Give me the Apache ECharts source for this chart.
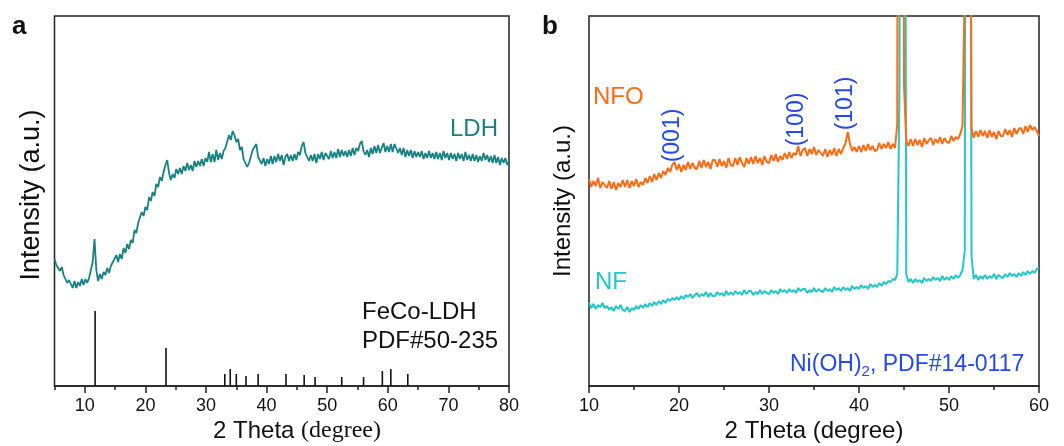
<!DOCTYPE html>
<html>
<head>
<meta charset="utf-8">
<script src="https://cdn.jsdelivr.net/npm/echarts@6/dist/echarts.min.js"></script>
<style>
html,body{margin:0;padding:0;background:#fff;}
#chart{width:1064px;height:446px;}
</style>
</head>
<body>
<div id="chart"></div>
<script>
// ---------- Panel a: FeCo-LDH ----------
const ldhStart = 5;
const ldhStep = 0.3;
const ldhIntensity = [
127,121,123,115,119,111,113,103,106,106,
98,105,98,104,100,107,101,107,103,108,
108,124,147,116,105,112,107,114,111,118,
113,120,118,127,131,124,132,127,138,133,
142,137,146,143,156,153,163,161,174,170,
179,176,189,185,194,190,202,199,209,205,
214,221,226,213,206,212,208,217,212,218,
212,220,215,223,216,221,215,225,219,225,
220,227,220,228,224,234,224,232,224,236,
226,233,227,235,238,240,251,246,255,251,
244,247,236,239,227,227,219,223,223,236,
239,242,229,231,222,228,220,227,222,230,
222,230,224,232,225,231,221,229,232,225,
231,225,232,226,234,231,240,244,233,233,
225,231,225,232,223,232,227,234,226,233,
232,227,235,228,234,228,237,229,236,230,
235,229,236,230,238,231,238,235,242,245,
235,231,236,229,238,232,240,233,241,233,
235,243,234,240,234,242,234,242,242,233,
238,231,238,229,236,230,236,228,235,229,
234,229,235,227,233,228,235,228,233,227,
234,227,233,226,235,228,233,226,233,227,
232,225,233,227,232,225,234,226,231,225,
232,225,231,224,230,225,233,226,231,224,
230,223,231,223,229,221,228,223,228,221,225
];
// reference pattern PDF#50-235
const pdfPositions = [11.7, 23.4, 33.1, 34.0, 35.0, 36.6, 38.6, 43.2, 46.2, 48.0, 52.4, 56.0, 59.1, 60.5, 63.3];
const pdfHeights   = [75, 38, 12, 17, 12, 10, 12, 12, 11, 9, 9, 9, 15, 17, 12];
const aMajorTicks = [10, 20, 30, 40, 50, 60, 70, 80];
const aMinorTicks = [5, 15, 25, 35, 45, 55, 65, 75];

// ---------- Panel b: NFO / NF ----------
const bStart = 10;
const bStep = 0.25;
const nfoIntensity = [
207,199,205,200,208,198,204,201,
198,205,197,204,196,203,199,206,
199,206,198,205,200,207,199,204,
201,208,203,210,204,212,206,213,
208,215,211,218,214,221,224,216,
222,214,221,216,224,217,223,218,
217,225,218,226,219,224,217,226,
226,219,227,220,225,218,228,221,
220,228,221,229,223,219,228,222,
229,222,230,223,228,221,230,224,
223,231,225,232,224,230,226,233,
227,234,228,233,231,240,230,236,
238,230,237,232,239,231,236,233,
230,237,229,236,231,238,230,237,
232,238,243,254,242,235,239,234,
240,234,241,235,242,236,240,235,
236,243,237,242,238,244,237,242,
238,262,1500,1500,300,246,240,247,
240,247,241,246,239,248,242,246,
248,241,247,243,249,242,248,244,
243,250,245,249,247,252,260,400,
1500,1000,258,248,255,249,256,250,
255,248,256,249,254,247,255,250,
250,257,251,256,249,258,252,257,
258,252,260,254,261,256,259,255,
250
];
const nfIntensity = [
83,78,82,77,81,79,83,78,
80,76,79,75,80,77,81,76,
75,79,74,78,76,80,77,81,
78,82,79,83,80,84,81,85,
82,86,83,87,85,88,86,89,
86,90,87,91,89,92,88,91,
93,89,92,90,94,89,93,90,
90,94,91,93,90,95,91,94,
91,95,92,94,91,96,92,95,
95,91,94,92,96,92,95,93,
92,96,93,95,92,97,94,96,
93,97,94,96,93,98,95,97,
97,93,96,94,98,94,97,95,
94,98,95,97,94,99,96,98,
95,99,96,98,95,100,97,99,
97,101,98,100,97,102,99,101,
99,103,100,104,102,105,104,107,
106,112,300,1500,1200,112,104,107,
103,107,104,106,103,108,105,107,
105,109,106,108,105,110,106,109,
106,110,107,111,108,111,116,135,
1500,1200,130,107,111,106,110,107,
111,107,110,108,112,107,111,109,
108,112,109,113,110,112,109,113,
110,114,111,115,112,115,113,117,
118
];
const bMajorTicks = [10, 20, 30, 40, 50, 60];
const bMinorTicks = [15, 25, 35, 45, 55];

// ---------- build ----------
function pairs(start, step, ys) {
  return ys.map((y, i) => [+(start + step * i).toFixed(3), y]);
}
const ldhData = pairs(ldhStart, ldhStep, ldhIntensity);
const pdfData = pdfPositions.map((x, i) => [x, pdfHeights[i]]);
const nfoData = pairs(bStart, bStep, nfoIntensity);
const nfData = pairs(bStart, bStep, nfIntensity);

const SANS = 'Liberation Sans, Arial, sans-serif';
const SERIF = 'Liberation Serif, Times New Roman, serif';
const AX = '#222';

function mainX(grid, min, max, ticks) {
  return {
    type: 'value', gridIndex: grid, min: min, max: max, position: 'bottom',
    axisLine: { show: true, onZero: false, lineStyle: { color: AX, width: 1.5 } },
    axisTick: { show: true, inside: false, length: 7, customValues: ticks, lineStyle: { color: AX, width: 1.5 } },
    axisLabel: { show: true, customValues: ticks, fontSize: 18, fontFamily: SANS, color: '#111', margin: 11 },
    splitLine: { show: false }
  };
}
function minorX(grid, min, max, ticks) {
  return {
    type: 'value', gridIndex: grid, min: min, max: max, position: 'bottom',
    axisLine: { show: false, onZero: false },
    axisTick: { show: true, inside: false, length: 4, customValues: ticks, lineStyle: { color: AX, width: 1.5 } },
    axisLabel: { show: false },
    splitLine: { show: false }
  };
}
function yAx(grid) {
  return { type: 'value', gridIndex: grid, min: 0, max: 370, show: false, splitLine: { show: false } };
}

function txt(x, y, text, size, color, opts) {
  opts = opts || {};
  return {
    type: 'text', x: x, y: y, rotation: opts.rotation || 0, z: 100,
    style: {
      text: text, fill: color, fontSize: size, fontFamily: opts.family || SANS,
      fontWeight: opts.weight || 'normal',
      align: opts.align || 'left', verticalAlign: 'middle',
      textAlign: opts.align || 'left', textVerticalAlign: 'middle',
      rich: opts.rich
    }
  };
}

const BLUE = '#2548F0';
const TEAL = '#188282';
const ORANGE = '#FF6A12';
const CYAN = '#22C8C8';

const option = {
  animation: false,
  backgroundColor: '#fff',
  grid: [
    { left: 54.5, right: 555, top: 16, bottom: 60, show: true, borderColor: AX, borderWidth: 1.5, backgroundColor: 'transparent' },
    { left: 589, right: 25, top: 16, bottom: 60, show: true, borderColor: AX, borderWidth: 1.5, backgroundColor: 'transparent' }
  ],
  xAxis: [
    mainX(0, 5, 80, aMajorTicks),
    minorX(0, 5, 80, aMinorTicks),
    mainX(1, 10, 60, bMajorTicks),
    minorX(1, 10, 60, bMinorTicks)
  ],
  yAxis: [yAx(0), yAx(1)],
  series: [
    { type: 'line', name: 'LDH', xAxisIndex: 0, yAxisIndex: 0, data: ldhData, showSymbol: false, symbol: 'none',
      lineStyle: { color: TEAL, width: 1.8 }, itemStyle: { color: TEAL }, clip: true },
    { type: 'bar', name: 'PDF#50-235', xAxisIndex: 0, yAxisIndex: 0, data: pdfData, barWidth: 1.6,
      itemStyle: { color: '#111' } },
    { type: 'line', name: 'NF', xAxisIndex: 2, yAxisIndex: 1, data: nfData, showSymbol: false, symbol: 'none',
      lineStyle: { color: CYAN, width: 2 }, itemStyle: { color: CYAN }, clip: true },
    { type: 'line', name: 'NFO', xAxisIndex: 2, yAxisIndex: 1, data: nfoData, showSymbol: false, symbol: 'none',
      lineStyle: { color: ORANGE, width: 2 }, itemStyle: { color: ORANGE }, clip: true }
  ],
  graphic: [
    txt(12, 27, 'a', 26, '#111', { weight: 'bold' }),
    txt(542, 27, 'b', 26, '#111', { weight: 'bold' }),
    txt(31.5, 195, 'Intensity (a.u.)', 27, '#111', { align: 'center', rotation: Math.PI / 2 }),
    txt(563, 201, 'Intensity (a.u.)', 24, '#111', { align: 'center', rotation: Math.PI / 2 }),
    txt(297, 431, '2 Theta {s|(degree)}', 24, '#111', { align: 'center', rich: { s: { fontFamily: SERIF, fontSize: 24, fill: '#111' } } }),
    txt(814, 431, '2 Theta (degree)', 24, '#111', { align: 'center' }),
    txt(450, 129, 'LDH', 24, TEAL),
    txt(362, 312, 'FeCo-LDH', 24, '#111'),
    txt(362, 341, 'PDF#50-235', 24, '#111'),
    txt(593, 97, 'NFO', 24, ORANGE),
    txt(595, 282, 'NF', 24, CYAN),
    txt(672.5, 135.5, '(001)', 23, BLUE, { align: 'center', rotation: Math.PI / 2 }),
    txt(797, 119.5, '(100)', 23, BLUE, { align: 'center', rotation: Math.PI / 2 }),
    txt(846, 103.5, '(101)', 23, BLUE, { align: 'center', rotation: Math.PI / 2 }),
    txt(790, 365, 'Ni(OH)', 23, BLUE),
    txt(861.5, 372, '2', 15, BLUE),
    txt(870, 365, ', PDF#14-0117', 23, BLUE)
  ]
};

const chart = echarts.init(document.getElementById('chart'), null, { renderer: 'canvas' });
chart.setOption(option);
</script>
</body>
</html>
